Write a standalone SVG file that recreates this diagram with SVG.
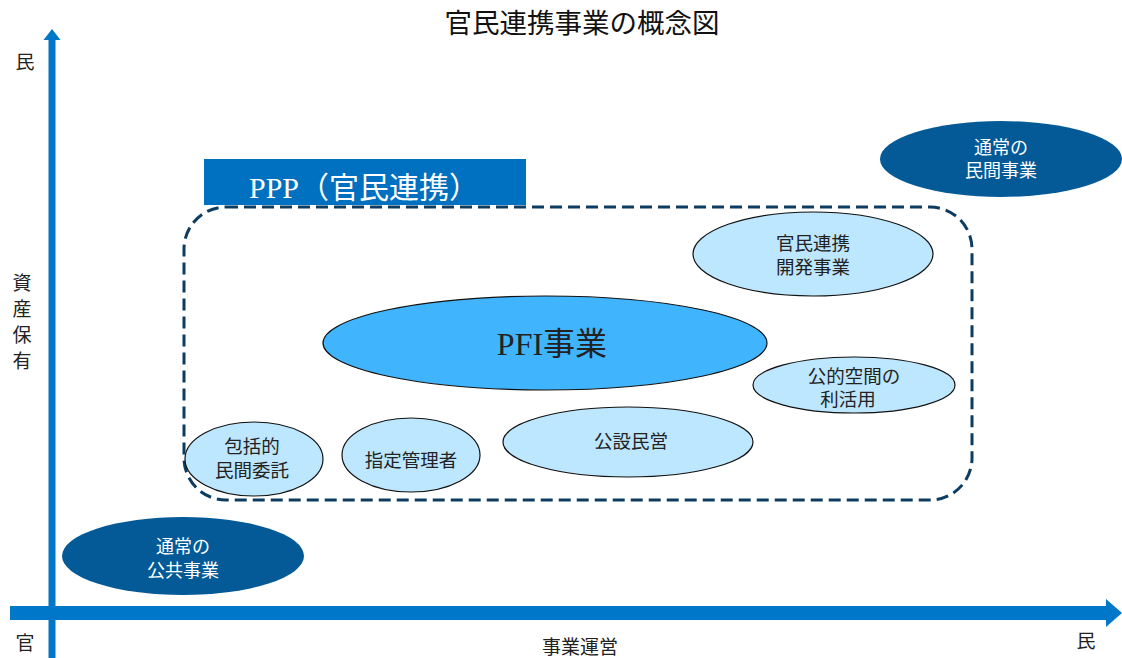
<svg xmlns="http://www.w3.org/2000/svg" width="1122" height="658" viewBox="0 0 1122 658">
<defs>
<style>
.t{font-family:"Liberation Serif","Noto Sans CJK JP",serif;fill:#222;text-anchor:middle}
.w{fill:#fff}
.lt{fill:#BDE6FF;stroke:#111;stroke-width:1.2}
.dk{fill:#035A96}
.ax{fill:#0077C8}
</style>
</defs>
<rect width="1122" height="658" fill="#fff"/>
<text x="582" y="33" style="font-family:'Noto Sans CJK JP',sans-serif;font-size:27.5px;fill:#111;text-anchor:middle">官民連携事業の概念図</text>
<g id="connectors">
<g id="axis-y"><rect class="ax" x="48.5" y="38" width="7" height="620"/><polygon class="ax" points="52,29 60.5,40 43.5,40"/></g>
<g id="axis-x"><rect class="ax" x="10" y="606" width="1100" height="14"/><polygon class="ax" points="1122,613 1106,599 1106,627"/></g>
</g>
<g id="axis-labels">
<text class="t" x="25" y="69" font-size="19">民</text>
<text class="t" x="25" y="650" font-size="19">官</text>
<text class="t" x="1086" y="648" font-size="19">民</text>
<text class="t" x="580" y="654" font-size="19">事業運営</text>
<text class="t" x="22" y="290" font-size="19">資</text>
<text class="t" x="22" y="316" font-size="19">産</text>
<text class="t" x="22" y="342" font-size="19">保</text>
<text class="t" x="22" y="368" font-size="19">有</text>
</g>
<g id="ppp">
<rect x="184" y="207" width="788" height="293" rx="42" fill="none" stroke="#0D3C61" stroke-width="3" stroke-dasharray="12 6"/>
<rect x="204" y="159" width="322" height="46" fill="#0070C0"/>
<text class="t w" x="364" y="198" font-size="30">PPP（官民連携）</text>
</g>
<g id="n-kaihatsu"><ellipse class="lt" cx="813" cy="254" rx="120" ry="42"/><text class="t" x="813" y="250" font-size="18.5">官民連携</text><text class="t" x="813" y="274" font-size="18.5">開発事業</text></g>
<g id="n-pfi"><ellipse cx="545" cy="343" rx="222" ry="47" fill="#40B4FD" stroke="#111" stroke-width="1.2"/><text class="t" x="552" y="355" font-size="32">PFI事業</text></g>
<g id="n-kouteki"><ellipse class="lt" cx="854" cy="385" rx="101" ry="28"/><text class="t" x="854" y="383" font-size="18.5">公的空間の</text><text class="t" x="848" y="406" font-size="18.5">利活用</text></g>
<g id="n-kousetsu"><ellipse class="lt" cx="628" cy="442" rx="125" ry="35"/><text class="t" x="631" y="448" font-size="18.5">公設民営</text></g>
<g id="n-shitei"><ellipse class="lt" cx="411" cy="455" rx="69" ry="37"/><text class="t" x="411" y="467" font-size="18.5">指定管理者</text></g>
<g id="n-houkatsu"><ellipse class="lt" cx="254" cy="459" rx="69" ry="37"/><text class="t" x="252" y="453" font-size="18.5">包括的</text><text class="t" x="252" y="477" font-size="18.5">民間委託</text></g>
<g id="n-koukyou"><ellipse class="dk" cx="183" cy="556" rx="121" ry="39"/><text class="t w" x="183" y="553" font-size="18">通常の</text><text class="t w" x="183" y="577" font-size="18">公共事業</text></g>
<g id="n-minkan"><ellipse class="dk" cx="1001" cy="159" rx="121" ry="38"/><text class="t w" x="1001" y="154" font-size="18">通常の</text><text class="t w" x="1001" y="177" font-size="18">民間事業</text></g>
</svg>
